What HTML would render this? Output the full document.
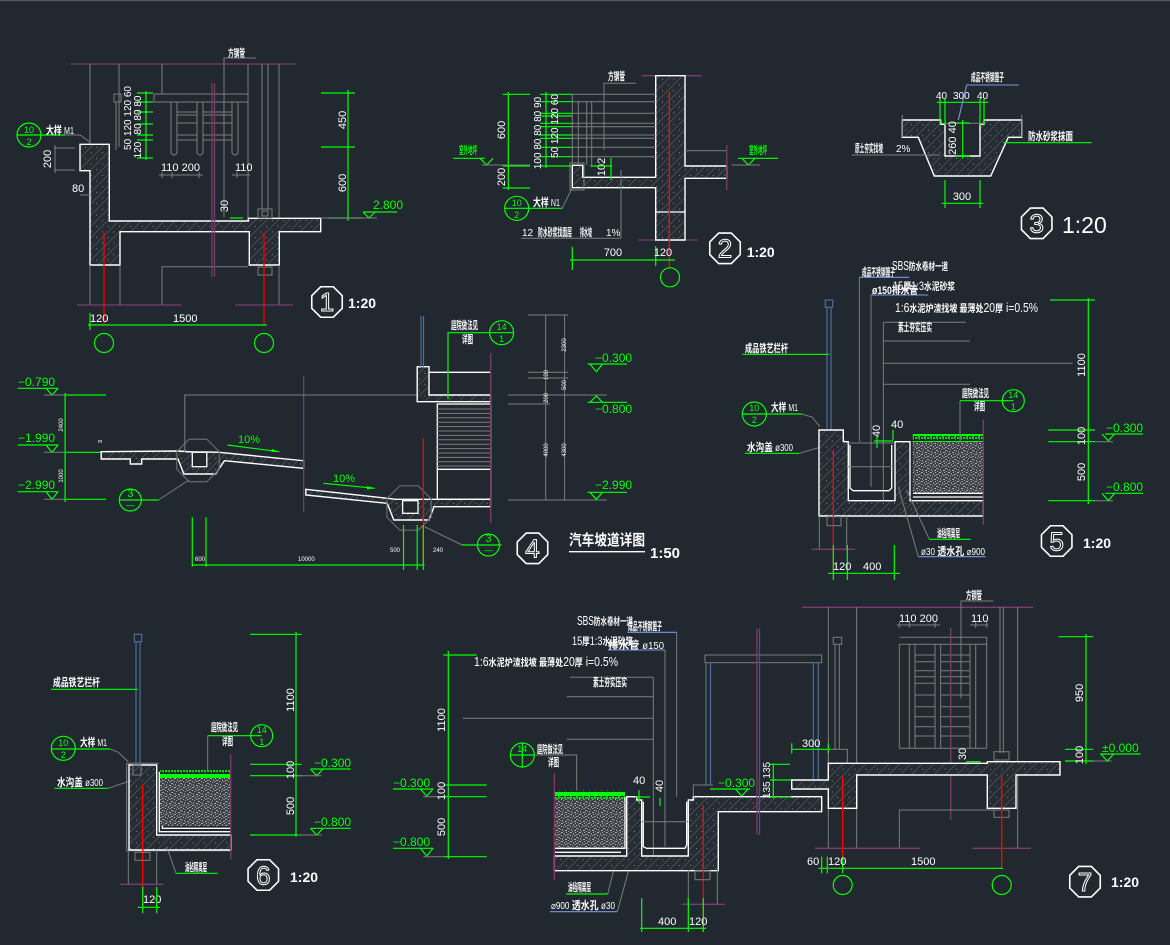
<!DOCTYPE html>
<html><head><meta charset="utf-8"><style>
html,body{margin:0;padding:0;background:#212830;}
svg{display:block;}
.w{stroke:#fff;fill:none;stroke-width:1.3}
.g{stroke:#7d7d7d;fill:none;stroke-width:1}
.gr{stroke:#00ff00;fill:none;stroke-width:1.2}
.p{stroke:#7e3a70;fill:none;stroke-width:1.3}
.r{stroke:#ff0000;fill:none;stroke-width:1.3}
.b{stroke:#4a6f98;fill:none;stroke-width:1.2}
.h{fill:url(#hatch);stroke:#fff;stroke-width:1.4}
.tw{fill:#fff;font-family:"Liberation Sans",sans-serif;font-size:11px}
.tg{fill:#00ff00;font-family:"Liberation Sans",sans-serif;font-size:12px}
.cj{fill:#fff;font-family:"Liberation Sans","Noto Sans CJK SC",sans-serif;font-size:11px;font-weight:bold}
.cg{fill:#00ff00;font-family:"Liberation Sans","Noto Sans CJK SC",sans-serif;font-size:11px;font-weight:bold}
.oc{fill:none;stroke:#fff;stroke-width:1.6}
.on{fill:none;stroke:#fff;stroke-width:1;font-family:"Liberation Sans",sans-serif;font-size:26px}
.sc{fill:#fff;font-family:"Liberation Sans",sans-serif;font-size:14px;font-weight:bold}
.sm{fill:#00ff00;font-family:"Liberation Sans",sans-serif;font-size:9px}
</style></head><body>
<svg width="1170" height="945" viewBox="0 0 1170 945" xmlns="http://www.w3.org/2000/svg">
<defs>
<pattern id="hatch" width="8" height="8" patternUnits="userSpaceOnUse" patternTransform="rotate(45)">
<rect width="8" height="8" fill="#262c34"/>
<line x1="0" y1="0" x2="0" y2="8" stroke="#707070" stroke-width="0.9"/>
<rect x="4" y="3" width="1" height="1" fill="#888"/>
</pattern>
<pattern id="soil" width="9" height="9" patternUnits="userSpaceOnUse">
<rect width="9" height="9" fill="#3e4248"/>
<rect x="0" y="0" width="2" height="1" fill="#a0a0a0"/><rect x="4" y="1" width="1" height="2" fill="#8a8a8a"/>
<rect x="7" y="2" width="2" height="1" fill="#b0b0b0"/><rect x="1" y="3" width="1" height="1" fill="#999"/>
<rect x="3" y="4" width="2" height="1" fill="#a8a8a8"/><rect x="6" y="5" width="1" height="2" fill="#909090"/>
<rect x="0" y="6" width="2" height="1" fill="#9a9a9a"/><rect x="3" y="7" width="1" height="1" fill="#b5b5b5"/>
<rect x="7" y="7" width="2" height="1" fill="#888"/><rect x="5" y="3" width="1" height="1" fill="#777"/>
<rect x="2" y="5" width="1" height="1" fill="#777"/><rect x="8" y="4" width="1" height="1" fill="#aaa"/>
<rect x="5" y="8" width="1" height="1" fill="#999"/><rect x="2" y="1" width="1" height="1" fill="#888"/>
</pattern>
<pattern id="grass" width="6" height="9" patternUnits="userSpaceOnUse">
<rect width="6" height="4" fill="#00ff00"/>
<rect x="0" y="4" width="2" height="3" fill="#00cc00"/><rect x="3" y="5" width="2" height="2" fill="#00e000"/>
<rect x="1" y="7" width="1" height="1" fill="#00b000"/>
</pattern>
</defs>
<rect width="1170" height="945" fill="#212830"/>
<line x1="0" y1="0.5" x2="1170" y2="0.5" stroke="#555" stroke-width="1.5"/>

<!-- ================= DRAWING 1 ================= -->
<line class="p" x1="71" y1="64" x2="296" y2="64"/>
<text class="cj" x="228" y="57" textLength="17" lengthAdjust="spacingAndGlyphs">方钢管</text>
<polyline class="g" points="256,58 224,58 224,217"/>
<line class="g" x1="90" y1="64" x2="90" y2="144"/>
<line class="g" x1="119" y1="64" x2="119" y2="147"/>
<line class="g" x1="162" y1="64" x2="162" y2="94"/>
<line class="g" x1="248" y1="64" x2="248" y2="218"/>
<line class="g" x1="262" y1="64" x2="262" y2="209"/>
<line class="g" x1="268" y1="64" x2="268" y2="209"/>
<line class="g" x1="279" y1="64" x2="279" y2="218"/>
<rect class="g" x="154" y="94" width="94" height="8"/>
<rect class="g" x="114" y="94" width="7" height="8"/>
<line class="g" x1="116" y1="102" x2="116" y2="150"/>
<path class="g" d="M171,102 V153 Q174,157 177,153 V102 M197,102 V153 Q200,157 203,153 V102 M232,102 V153 Q235,157 238,153 V102"/>
<path class="g" d="M177,112 H197 M203,112 H232 M177,115 H197 M203,115 H232 M177,123 H197 M203,123 H232 M177,135 H197 M203,135 H232 M177,140 H197 M203,140 H232"/>
<polygon class="h" points="80,144.3 109.3,144.3 109.3,221 248.3,221 248.3,218.3 320.7,218.3 320.7,231.7 279.3,231.7 279.3,265 249.3,265 249.3,231.7 120,231.7 120,265 90,265 90,170.7 80,170.7"/>
<rect class="g" x="258" y="209" width="14" height="9"/>
<rect class="g" x="262" y="211" width="6" height="5"/>
<rect class="g" x="258" y="267" width="14" height="8"/>
<line class="g" x1="90" y1="265" x2="90" y2="305"/>
<line class="g" x1="120" y1="265" x2="120" y2="305"/>
<polyline class="g" points="162,305 162,266.7 248,266.7"/>
<line class="g" x1="279" y1="265" x2="279" y2="305"/>
<line class="p" x1="212" y1="83" x2="212" y2="277"/><line class="p" x1="214.5" y1="83" x2="214.5" y2="277"/>
<line class="r" x1="104" y1="233" x2="104" y2="325"/>
<line class="r" x1="264" y1="233" x2="264" y2="325"/>
<line class="p" x1="77" y1="305" x2="182" y2="305"/>
<line class="p" x1="235" y1="305" x2="293" y2="305"/>
<line class="gr" x1="88" y1="325" x2="267" y2="325"/>
<line class="gr" x1="90" y1="313" x2="90" y2="330"/>
<text class="tw" x="90" y="322">120</text>
<text class="tw" x="173" y="322">1500</text>
<circle class="gr" cx="104" cy="343" r="9.5"/>
<circle class="gr" cx="264" cy="343" r="9.5"/>
<polygon class="oc" points="342.24,308.31 333.31,317.24 320.69,317.24 311.76,308.31 311.76,295.69 320.69,286.76 333.31,286.76 342.24,295.69"/>
<text class="on" x="327" y="311" text-anchor="middle">1</text>
<text class="sc" x="348" y="308">1:20</text>
<line class="gr" x1="348" y1="90" x2="348" y2="221"/>
<line class="gr" x1="321" y1="93" x2="355" y2="93"/>
<line class="gr" x1="321" y1="147" x2="355" y2="147"/>
<line class="gr" x1="328" y1="218" x2="362" y2="218"/>
<text class="tw" transform="translate(346,120) rotate(-90)" text-anchor="middle">450</text>
<text class="tw" transform="translate(346,183) rotate(-90)" text-anchor="middle">600</text>
<line class="gr" x1="363" y1="212" x2="397" y2="212"/>
<polyline class="gr" points="363,212 369,218 375,212"/>
<line class="g" x1="321" y1="218" x2="377" y2="218"/>
<text class="tg" x="373" y="209">2.800</text>
<circle class="gr" cx="29" cy="135" r="12"/>
<line class="gr" x1="17" y1="135" x2="65" y2="135"/>
<text class="sm" x="29" y="133" text-anchor="middle">10</text>
<text class="sm" x="29" y="145" text-anchor="middle">2</text>
<text class="cj" x="46" y="134" textLength="28" lengthAdjust="spacingAndGlyphs">大样 <tspan font-size="10" font-weight="normal">M1</tspan></text>
<polyline class="g" points="65,135 80,135 90,142"/>
<path class="g" d="M54,148 H75 M54,170 H75 M55,145 V173"/>
<text class="tw" transform="translate(51,159) rotate(-90)" text-anchor="middle">200</text>
<text class="tw" x="72" y="192">80</text>
<path class="g" d="M80,195 H92"/>
<line class="gr" x1="146" y1="91" x2="146" y2="160"/>
<path class="gr" d="M137,93 H153 M137,102 H153 M137,112 H153 M137,124 H153 M137,135 H153 M137,140 H153 M137,158 H153"/>
<text class="tw" style="font-size:10px" transform="translate(131,118) rotate(-90)" text-anchor="middle">50 120 120 60</text>
<text class="tw" style="font-size:10px" transform="translate(141,115) rotate(-90)" text-anchor="middle">80 80 80</text>
<text class="tw" style="font-size:10px" transform="translate(141,150) rotate(-90)" text-anchor="middle">120</text>
<text class="tw" x="161" y="171">110 200</text>
<text class="tw" x="235" y="171">110</text>
<path class="g" d="M159,175 H203 M162,172 V178 M172,172 V178 M199,172 V178 M232,175 H250 M237,172 V178 M248,172 V178"/>
<text class="tw" transform="translate(228,206) rotate(-90)" text-anchor="middle">30</text>
<line class="gr" x1="230" y1="218" x2="243" y2="218"/>

<!-- ================= DRAWING 2 ================= -->
<line class="p" x1="641.7" y1="75.7" x2="701.7" y2="75.7"/>
<line class="p" x1="638" y1="240" x2="698" y2="240"/>
<polygon class="h" points="655.7,75.7 685,75.7 685,166 726.7,166 726.7,178.3 685,178.3 685,240 655.7,240 655.7,187.7 572.3,187.7 572.3,165.3 582.7,165.3 582.7,177.3 655.7,177.3"/>
<line class="w" x1="655.7" y1="212" x2="685" y2="212"/>
<line class="g" x1="685" y1="150.7" x2="726.7" y2="150.7"/>
<line class="p" x1="726.7" y1="145" x2="726.7" y2="190"/>
<line class="r" x1="669.3" y1="91.7" x2="669.3" y2="267"/>
<path class="g" d="M572,94.3 H655.7 M572,101.7 H655.7 M572,113.3 H655.7 M572,123.3 H655.7 M572,126.7 H655.7 M572,135 H655.7 M572,138.3 H655.7 M572,147.3 H655.7 M572,156.7 H655.7"/>
<path class="g" d="M572.3,94 V165 M578.3,101 V165 M586.7,101 V165 M591.7,101 V165"/>
<rect class="g" x="570" y="163" width="14" height="27"/>
<text class="cj" x="608" y="80" textLength="17" lengthAdjust="spacingAndGlyphs">方钢管</text>
<polyline class="g" points="636,83.3 604,83.3 604,150"/>
<line class="gr" x1="508.3" y1="92" x2="508.3" y2="190"/>
<path class="gr" d="M502.7,94.3 H530 M502.7,166 H530 M502.7,188 H530"/>
<text class="tw" transform="translate(505,130) rotate(-90)" text-anchor="middle">600</text>
<text class="tw" transform="translate(505,177) rotate(-90)" text-anchor="middle">200</text>
<line class="gr" x1="546" y1="92" x2="546" y2="168"/>
<path class="gr" d="M540,94.3 H572 M540,101.7 H572 M540,113.3 H572 M540,116 H572 M540,123.3 H572 M540,126.7 H572 M540,135 H572 M540,138.3 H572 M540,147.3 H572 M540,156.7 H572 M540,166 H572"/>
<text class="tw" style="font-size:10px" transform="translate(541,133) rotate(-90)" text-anchor="middle">100 80 80 80 90</text>
<text class="tw" style="font-size:10px" transform="translate(558,126) rotate(-90)" text-anchor="middle">50 120 120 60</text>
<text class="cg" x="459" y="154" textLength="18" lengthAdjust="spacingAndGlyphs">室外地坪</text>
<line class="gr" x1="453" y1="158.3" x2="485" y2="158.3"/>
<polyline class="gr" points="480,158.3 486.7,165 493,158.3"/>
<line class="g" x1="481.7" y1="165" x2="530" y2="165"/>
<text class="cg" x="749" y="154" textLength="18" lengthAdjust="spacingAndGlyphs">室外地坪</text>
<line class="gr" x1="738" y1="158.3" x2="778" y2="158.3"/>
<polyline class="gr" points="742,158.3 748.3,165 755,158.3"/>
<line class="g" x1="731.7" y1="165" x2="760" y2="165"/>
<text class="tw" transform="translate(605,167) rotate(-90)" text-anchor="middle">102</text>
<path class="gr" d="M590,166 H612 M611,158 V180"/>
<circle class="gr" cx="516.7" cy="208.3" r="12"/>
<line class="gr" x1="505" y1="208.3" x2="561.7" y2="208.3"/>
<text class="sm" x="516.7" y="206" text-anchor="middle">10</text>
<text class="sm" x="516.7" y="218" text-anchor="middle">2</text>
<text class="cj" x="533" y="206" textLength="27" lengthAdjust="spacingAndGlyphs">大样 <tspan font-size="10" font-weight="normal">N1</tspan></text>
<polyline class="g" points="561.7,209.3 572.3,187.7"/>
<text class="tw" style="font-size:10px" x="522" y="236">12</text>
<text class="cj" x="538" y="236" textLength="34" lengthAdjust="spacingAndGlyphs">防水砂浆找面层</text>
<text class="cj" x="580" y="236" textLength="12" lengthAdjust="spacingAndGlyphs">排水坡</text>
<text class="tw" style="font-size:10px" x="606" y="236">1%</text>
<line class="g" x1="521" y1="238.3" x2="621" y2="238.3"/>
<line class="g" x1="621" y1="170" x2="621" y2="238.3"/>
<line class="gr" x1="570" y1="260" x2="675" y2="260"/>
<path class="gr" d="M572.3,246.7 V270 M655.7,246 V266"/>
<text class="tw" x="613" y="256" text-anchor="middle">700</text>
<text class="tw" x="663" y="256" text-anchor="middle">120</text>
<circle class="gr" cx="670" cy="277.3" r="9.5"/>
<polygon class="oc" points="740.24,254.61 731.31,263.54 718.69,263.54 709.76,254.61 709.76,241.99 718.69,233.06 731.31,233.06 740.24,241.99"/>
<text class="on" x="725" y="257.5" text-anchor="middle">2</text>
<text class="sc" x="746.7" y="257">1:20</text>

<!-- ================= DRAWING 3 ================= -->
<polygon class="h" points="902.3,120 940.7,120 940.7,124.3 945,124.3 945,156 980,156 980,124.3 984,124.3 984,120 1021.7,120 1021.7,137.3 1008.3,137.3 990.7,176 934.3,176 918.3,137.3 902.3,137.3"/>
<rect x="943" y="119" width="38" height="4" fill="#212830"/>
<line class="g" x1="941.7" y1="123.3" x2="983.3" y2="123.3"/>
<line class="g" x1="902.3" y1="115" x2="902.3" y2="137"/>
<line class="g" x1="1021.7" y1="115" x2="1021.7" y2="137"/>
<text class="tw" style="font-size:10px" x="936" y="99">40</text><text class="tw" style="font-size:10px" x="953" y="99">300</text><text class="tw" style="font-size:10px" x="977" y="99">40</text>
<line class="gr" x1="936.7" y1="102.3" x2="988.3" y2="102.3"/>
<path class="gr" d="M940,99 V125 M945,99 V125 M980,99 V125 M984,99 V125"/>
<line class="gr" x1="962.7" y1="120" x2="962.7" y2="158.3"/>
<path class="gr" d="M955,123 H970 M955,156 H970"/>
<text class="tw" transform="translate(956,138) rotate(-90)" text-anchor="middle">260 40</text>
<text class="tw" x="962" y="200" text-anchor="middle">300</text>
<line class="gr" x1="941.7" y1="203.3" x2="983.3" y2="203.3"/>
<path class="gr" d="M945,180 V208 M980,180 V208"/>
<polyline points="958.3,120 966.7,85 1019,85" fill="none" stroke="#7a96e0" stroke-width="1.1"/>
<text class="cj" x="971" y="81" textLength="33" lengthAdjust="spacingAndGlyphs">成品不锈钢篦子</text>
<text class="cj" x="855" y="152" textLength="28" lengthAdjust="spacingAndGlyphs">原土夯实找坡</text><text class="tw" style="font-size:10px" x="896" y="152">2%</text>
<line class="g" x1="851.7" y1="155" x2="940" y2="155"/>
<text class="cj" x="1028" y="140" textLength="45" lengthAdjust="spacingAndGlyphs">防水砂浆抹面</text>
<line class="gr" x1="1003.3" y1="142.7" x2="1091.7" y2="142.7"/>
<polygon class="oc" points="1051.94,229.61 1043.01,238.54 1030.39,238.54 1021.46,229.61 1021.46,216.99 1030.39,208.06 1043.01,208.06 1051.94,216.99"/>
<text class="on" x="1036.7" y="232.5" text-anchor="middle">3</text>
<text x="1062" y="233" fill="#fff" font-family="Liberation Sans,sans-serif" font-size="23">1:20</text>

<!-- ================= DRAWING 4 ================= -->
<text class="tg" x="18" y="386">−0.790</text>
<line class="gr" x1="17.6" y1="388.3" x2="58.5" y2="388.3"/>
<polyline class="gr" points="46,388.3 52,395 58,388.3"/>
<line class="g" x1="44" y1="395" x2="66" y2="395"/><line class="gr" x1="66" y1="395" x2="106" y2="395"/>
<text class="tg" x="18" y="442">−1.990</text>
<line class="gr" x1="17.6" y1="445" x2="58.5" y2="445"/>
<polyline class="gr" points="46,445 52,452.3 58,445"/>
<line class="g" x1="44" y1="452.3" x2="66" y2="452.3"/><line class="gr" x1="66" y1="452.3" x2="106" y2="452.3"/>
<text class="tg" x="18" y="489">−2.990</text>
<line class="gr" x1="17.6" y1="491.7" x2="58.5" y2="491.7"/>
<polyline class="gr" points="46,491.7 52,499.3 58,491.7"/>
<line class="g" x1="44" y1="499.3" x2="66" y2="499.3"/><line class="gr" x1="66" y1="499.3" x2="106" y2="499.3"/>
<line class="gr" x1="65.1" y1="393" x2="65.1" y2="502"/>
<text class="tw" style="font-size:6px" transform="translate(63,425) rotate(-90)" text-anchor="middle">2400</text>
<text class="tw" style="font-size:6px" transform="translate(63,476) rotate(-90)" text-anchor="middle">1000</text>
<text class="tw" style="font-size:5px" x="98" y="443">m</text>
<polygon class="h" points="101.2,451.7 178.2,451 192.3,452 206.8,452 219.1,452.3 303.6,460.7 303.6,468.3 224.4,460.7 215.6,474 183.9,474 178,459 141.7,459 141.7,464 130.3,464 130.3,459 101.2,459"/>
<rect x="192.3" y="452.3" width="14.5" height="14.4" fill="#212830" stroke="#fff" stroke-width="1.3"/>
<polygon class="h" points="305.8,489.3 387.2,498.3 396,499.3 402.6,499.3 418,499.3 433.4,499.3 490.6,499.3 490.6,506.7 434,506.7 429,520 393.8,520 387.2,503.3 305.8,495"/>
<rect x="402.6" y="500.7" width="15.4" height="12.6" fill="#212830" stroke="#fff" stroke-width="1.3"/>
<polygon points="219.25,469.3 206.8,481.75 189.2,481.75 176.75,469.3 176.75,451.7 189.2,439.25 206.8,439.25 219.25,451.7" fill="none" stroke="#6a6a6a" stroke-width="1.2"/>
<polygon points="431.17,517.18 418.18,530.17 399.82,530.17 386.83,517.18 386.83,498.82 399.82,485.83 418.18,485.83 431.17,498.82" fill="none" stroke="#6a6a6a" stroke-width="1.2"/>
<polyline class="g" points="189,480 158.4,500"/>
<line class="gr" x1="120" y1="500" x2="158.4" y2="500"/>
<circle class="gr" cx="130.3" cy="500" r="11"/>
<text class="sm" x="130.3" y="497" text-anchor="middle" style="font-size:11px">3</text>
<text class="sm" x="130.3" y="508" text-anchor="middle">—</text>
<polyline class="g" points="424.6,526.7 462,545"/>
<line class="gr" x1="462" y1="545" x2="501.6" y2="545"/>
<circle class="gr" cx="488.4" cy="545" r="11"/>
<text class="sm" x="488.4" y="542" text-anchor="middle" style="font-size:11px">3</text>
<text class="sm" x="488.4" y="553" text-anchor="middle">—</text>
<text class="tg" x="238" y="443" style="font-size:11px">10%</text>
<line class="gr" x1="227.5" y1="445" x2="279.4" y2="451.7"/>
<polygon points="279.4,451.7 272,449 271.5,452" fill="#00ff00"/>
<text class="tg" x="333" y="482" style="font-size:11px">10%</text>
<line class="gr" x1="323.4" y1="483.3" x2="375" y2="488.3"/>
<polygon points="375,488.3 367,486 367,489.5" fill="#00ff00"/>
<line class="p" x1="303.6" y1="376" x2="303.6" y2="511.7"/>
<polyline class="g" points="184.8,452 184.8,395 490.6,395"/>
<polygon class="h" points="417.2,366.7 429,366.7 429,395 490.6,395 490.6,401.7 417.2,401.7"/>
<line class="w" x1="429" y1="372.3" x2="490.7" y2="372.3"/>
<rect x="437.3" y="404" width="53.4" height="95.3" fill="none" stroke="#fff" stroke-width="1.3"/>
<path class="g" d="M437.3,409 H490.7 M437.3,413.4 H490.7 M437.3,417.8 H490.7 M437.3,422.2 H490.7 M437.3,426.6 H490.7 M437.3,431 H490.7 M437.3,435.4 H490.7 M437.3,439.8 H490.7 M437.3,444.2 H490.7 M437.3,448.6 H490.7 M437.3,453 H490.7 M437.3,457.4 H490.7 M437.3,461.8 H490.7 M437.3,466 H490.7"/>
<line class="w" x1="437.3" y1="469.3" x2="490.7" y2="469.3"/>
<line class="p" x1="490.7" y1="353" x2="490.7" y2="523"/>
<line class="b" x1="421" y1="316" x2="421" y2="367"/><line class="b" x1="423.5" y1="316" x2="423.5" y2="367"/>
<polyline class="gr" points="448,399 448,332.7 490.6,332.7"/>
<text class="cj" x="451" y="329" textLength="27" lengthAdjust="spacingAndGlyphs">庭院做法见</text>
<text class="cj" x="462" y="343" textLength="11" lengthAdjust="spacingAndGlyphs">详图</text>
<circle class="gr" cx="501.6" cy="332.7" r="12"/>
<line class="gr" x1="489.6" y1="332.7" x2="513.6" y2="332.7"/>
<text class="sm" x="501.6" y="330" text-anchor="middle">14</text>
<text class="sm" x="501.6" y="342" text-anchor="middle">1</text>
<line class="r" x1="423.3" y1="438.3" x2="423.3" y2="566"/>
<path class="g" d="M545.7,315 V500 M564.6,315 V500 M528,315 H568 M528,372.3 H568 M528,378 H568 M508,395 H607 M508,404 H550 M508,500 H607"/>
<text class="tw" style="font-size:6px" transform="translate(566,345) rotate(-90)" text-anchor="middle">2300</text>
<text class="tw" style="font-size:6px" transform="translate(548,375) rotate(-90)" text-anchor="middle">100</text>
<text class="tw" style="font-size:6px" transform="translate(566,385) rotate(-90)" text-anchor="middle">500</text>
<text class="tw" style="font-size:6px" transform="translate(548,398) rotate(-90)" text-anchor="middle">200</text>
<text class="tw" style="font-size:6px" transform="translate(548,450) rotate(-90)" text-anchor="middle">4000</text>
<text class="tw" style="font-size:6px" transform="translate(566,450) rotate(-90)" text-anchor="middle">4300</text>
<text class="tg" x="595" y="362">−0.300</text>
<line class="gr" x1="587.5" y1="364" x2="627" y2="364"/>
<polyline class="gr" points="590,364 596.3,371.7 602.6,364"/>
<polyline class="gr" points="590,402.3 596.3,396 602.6,402.3"/>
<line class="gr" x1="587.5" y1="402.3" x2="627" y2="402.3"/>
<text class="tg" x="595" y="413">−0.800</text>
<text class="tg" x="595" y="489">−2.990</text>
<line class="gr" x1="587.5" y1="492.3" x2="627" y2="492.3"/>
<polyline class="gr" points="590,492.3 596.3,499.3 602.6,492.3"/>
<path class="gr" d="M192.3,517.3 V566.7 M206,517.3 V566.7 M192.3,565 H424.6 M403.5,525 V570 M417.2,525 V570 M423.3,525 V570"/>
<text class="tw" style="font-size:6px" x="195" y="561">600</text>
<text class="tw" style="font-size:6px" x="298" y="561">10000</text>
<text class="tw" style="font-size:6px" x="390" y="552">500</text>
<text class="tw" style="font-size:6px" x="433" y="552">240</text>
<polygon class="oc" points="547.74,554.61 538.81,563.54 526.19,563.54 517.26,554.61 517.26,541.99 526.19,533.06 538.81,533.06 547.74,541.99"/>
<text class="on" x="532.5" y="557.5" text-anchor="middle">4</text>
<text x="569" y="545" fill="#fff" font-family="Liberation Sans,Noto Sans CJK SC,sans-serif" font-size="15" font-weight="bold" textLength="76" lengthAdjust="spacingAndGlyphs">汽车坡道详图</text>
<line class="w" x1="569" y1="551.7" x2="645" y2="551.7"/>
<text x="650" y="558" fill="#fff" font-family="Liberation Sans,sans-serif" font-size="15" font-weight="bold">1:50</text>

<!-- ================= DRAWING 5 ================= -->
<text x="892" y="270" fill="#fff" font-family="Liberation Sans,Noto Sans CJK SC,sans-serif" font-size="13" textLength="56" lengthAdjust="spacingAndGlyphs">SBS<tspan font-size="10" font-weight="bold">防水卷材一道</tspan></text>
<text class="cj" x="862" y="276" textLength="33" lengthAdjust="spacingAndGlyphs">成品不锈钢篦子</text>
<line x1="859.3" y1="277.3" x2="909.3" y2="277.3" stroke="#7a96e0" stroke-width="1.1"/>
<text x="893" y="290" fill="#fff" font-family="Liberation Sans,Noto Sans CJK SC,sans-serif" font-size="12" textLength="62" lengthAdjust="spacingAndGlyphs">15<tspan font-size="10" font-weight="bold">厚</tspan>1:3<tspan font-size="10" font-weight="bold">水泥砂浆</tspan></text>
<text class="cj" x="872" y="294" textLength="46" lengthAdjust="spacingAndGlyphs">ø150排水管</text>
<line x1="871" y1="295" x2="928.3" y2="295" stroke="#7a96e0" stroke-width="1.1"/>
<text x="895" y="312" fill="#fff" font-family="Liberation Sans,Noto Sans CJK SC,sans-serif" font-size="13" textLength="143" lengthAdjust="spacingAndGlyphs">1:6<tspan font-size="10" font-weight="bold">水泥炉渣找坡 最薄处</tspan>20<tspan font-size="10" font-weight="bold">厚</tspan> i=0.5%</text>
<path class="g" d="M859.3,277 V441.7 M871,295 V486.7 M883.3,322.3 V508.3 M883.3,322.3 H965.7 M883.3,341 H970 M883.3,363.3 H1072.7 M883.3,384.3 H970"/>
<text class="cj" x="898" y="331" textLength="34" lengthAdjust="spacingAndGlyphs">素土夯实压实</text>
<rect class="b" x="825.3" y="300" width="7.4" height="7.3"/>
<line class="b" x1="827" y1="307" x2="827" y2="430"/><line class="b" x1="831" y1="307" x2="831" y2="430"/>
<text class="cj" x="745" y="352" textLength="43" lengthAdjust="spacingAndGlyphs">成品铁艺栏杆</text>
<line class="gr" x1="742.3" y1="354.3" x2="829.3" y2="354.3"/>
<circle class="gr" cx="754.3" cy="414" r="12"/>
<line class="gr" x1="742.3" y1="414" x2="801.7" y2="414"/>
<text class="sm" x="754.3" y="411" text-anchor="middle">10</text>
<text class="sm" x="754.3" y="423" text-anchor="middle">2</text>
<text class="cj" x="771" y="411" textLength="27" lengthAdjust="spacingAndGlyphs">大样 <tspan font-size="10" font-weight="normal">M1</tspan></text>
<polyline class="g" points="801.7,414 812,417 820,426.7"/>
<text class="cj" x="747" y="451" textLength="46" lengthAdjust="spacingAndGlyphs">水沟盖 <tspan font-size="10" font-weight="normal">ø300</tspan></text>
<line class="gr" x1="745" y1="453.3" x2="799.3" y2="453.3"/>
<polyline class="g" points="799.3,453.3 845,440"/>
<polygon class="h" points="819,430 843.3,430 843.3,441.7 848.3,441.7 848.3,500.7 895,500.7 895,441.7 910,441.7 910,500.7 983.3,500.7 983.3,516 819,516"/>
<polyline class="w" points="850,445 850,488 853,490.7 889,490.7 891.7,488 891.7,445"/>
<line class="g" x1="848.3" y1="466.7" x2="895" y2="466.7"/>
<line class="g" x1="848.3" y1="443" x2="895" y2="443"/>
<rect x="912.7" y="441.7" width="70.6" height="51.3" fill="url(#soil)"/>
<rect x="912.7" y="434" width="70.6" height="8" fill="url(#grass)"/>
<line class="w" x1="913" y1="493.3" x2="983.3" y2="493.3"/>
<line class="w" x1="913" y1="497" x2="983.3" y2="497"/>
<line class="p" x1="983.3" y1="419.3" x2="983.3" y2="525"/>
<line class="r" x1="833.3" y1="450" x2="833.3" y2="573"/>
<rect class="g" x="827" y="516.7" width="14" height="9"/>
<path class="g" d="M819.3,516 V549.3 M846.7,516 V549.3"/>
<line class="p" x1="811.7" y1="549.3" x2="855" y2="549.3"/>
<line class="gr" x1="828" y1="573.3" x2="900" y2="573.3"/>
<path class="gr" d="M833.3,545 V580 M847.3,545 V580 M894.3,545 V580"/>
<text class="tw" x="833" y="570">120</text>
<text class="tw" x="863" y="570">400</text>
<text class="tw" transform="translate(880,431) rotate(-90)" text-anchor="middle">40</text>
<text class="tw" x="891" y="428">40</text>
<path class="gr" d="M874,441 H893 M877,436 V448 M893,430 V440"/>
<text class="cj" x="962" y="397" textLength="27" lengthAdjust="spacingAndGlyphs">庭院做法见</text>
<text class="cj" x="974" y="410" textLength="11" lengthAdjust="spacingAndGlyphs">详图</text>
<polyline class="g" points="960,441 960,400.7"/>
<line class="gr" x1="960" y1="400.7" x2="1013.3" y2="400.7"/>
<circle class="gr" cx="1013.3" cy="400.7" r="11"/>
<text class="sm" x="1013.3" y="398" text-anchor="middle">14</text>
<text class="sm" x="1013.3" y="410" text-anchor="middle">1</text>
<line class="gr" x1="1088.3" y1="298" x2="1088.3" y2="504"/>
<path class="gr" d="M1050,300 H1095 M1048.3,430 H1095 M1048.3,441.7 H1095 M1048.3,500.7 H1095"/>
<path class="g" d="M1095,441.7 H1113 M1095,500.7 H1113"/>
<text class="tw" transform="translate(1085,365) rotate(-90)" text-anchor="middle">1100</text>
<text class="tw" transform="translate(1085,436) rotate(-90)" text-anchor="middle">100</text>
<text class="tw" transform="translate(1085,472) rotate(-90)" text-anchor="middle">500</text>
<text class="tg" x="1106" y="432">−0.300</text>
<line class="gr" x1="1105" y1="434" x2="1143" y2="434"/>
<polyline class="gr" points="1102,434 1108.3,440.7 1114.6,434"/>
<text class="tg" x="1106" y="491">−0.800</text>
<line class="gr" x1="1105" y1="493.3" x2="1143" y2="493.3"/>
<polyline class="gr" points="1102,493.3 1108.3,500.7 1114.6,493.3"/>
<text class="cj" x="937" y="537" textLength="23" lengthAdjust="spacingAndGlyphs">油毡隔离层</text>
<line class="gr" x1="929.3" y1="539.3" x2="970.7" y2="539.3"/>
<polyline class="g" points="929.3,539.3 906.7,490"/>
<text class="cj" x="921" y="555" textLength="64" lengthAdjust="spacingAndGlyphs"><tspan font-size="10" font-weight="normal">ø30</tspan> 透水孔 <tspan font-size="10" font-weight="normal">⌀900</tspan></text>
<line x1="918.3" y1="556.7" x2="985.7" y2="556.7" stroke="#7a96e0" stroke-width="1.1"/>
<polyline class="g" points="918.3,556.7 898.3,486.7"/>
<polygon class="oc" points="1071.94,547.31 1063.01,556.24 1050.39,556.24 1041.46,547.31 1041.46,534.69 1050.39,525.76 1063.01,525.76 1071.94,534.69"/>
<text class="on" x="1056.7" y="550.5" text-anchor="middle">5</text>
<text class="sc" x="1083" y="548">1:20</text>

<!-- ================= DRAWING 6 ================= -->
<rect class="b" x="134.3" y="634.3" width="7.4" height="7.4"/>
<line class="b" x1="136" y1="641.7" x2="136" y2="763"/><line class="b" x1="140" y1="641.7" x2="140" y2="763"/>
<text class="cj" x="53" y="686" textLength="47" lengthAdjust="spacingAndGlyphs">成品铁艺栏杆</text>
<line class="gr" x1="51" y1="689.3" x2="137.7" y2="689.3"/>
<circle class="gr" cx="63.3" cy="748.3" r="12"/>
<line class="gr" x1="51.3" y1="749" x2="110" y2="749"/>
<text class="sm" x="63.3" y="746" text-anchor="middle">10</text>
<text class="sm" x="63.3" y="758" text-anchor="middle">2</text>
<text class="cj" x="80" y="746" textLength="27" lengthAdjust="spacingAndGlyphs">大样 <tspan font-size="10" font-weight="normal">M1</tspan></text>
<polyline class="g" points="110,749 118,752 128.3,761.7"/>
<text class="cj" x="57" y="786" textLength="46" lengthAdjust="spacingAndGlyphs">水沟盖 <tspan font-size="10" font-weight="normal">ø300</tspan></text>
<line class="gr" x1="54.3" y1="788.3" x2="108.3" y2="788.3"/>
<polyline class="g" points="108.3,788.3 156.7,771.7"/>
<polyline class="g" points="231,850.7 126.7,850.7 126.7,763.3 159,763.3"/>
<polygon class="h" points="129,765 156.7,765 156.7,835 231,835 231,850 129,850"/>
<rect x="160" y="778" width="71" height="48" fill="url(#soil)"/>
<rect x="160" y="770" width="71" height="8" fill="url(#grass)"/>
<polyline class="w" points="159.3,771.7 159.3,831.7 231,831.7"/>
<polyline class="w" points="162.3,826 162.3,828.3 231,828.3"/>
<rect class="g" x="133" y="765" width="8" height="10"/>
<line class="p" x1="230.7" y1="754.3" x2="230.7" y2="859.3"/>
<line class="r" x1="142.7" y1="785" x2="142.7" y2="908"/>
<rect class="g" x="135" y="852.3" width="15" height="8"/>
<path class="g" d="M128.3,850 V884.3 M156.7,850 V884.3"/>
<line class="p" x1="120" y1="884.3" x2="163.3" y2="884.3"/>
<text class="tw" x="143" y="903">120</text>
<line class="gr" x1="137.7" y1="907.3" x2="160" y2="907.3"/>
<path class="gr" d="M142.7,886.7 V913.3 M156.7,886.7 V913.3"/>
<text class="cj" x="185" y="871" textLength="22" lengthAdjust="spacingAndGlyphs">油毡隔离层</text>
<line class="gr" x1="176" y1="873.3" x2="217.7" y2="873.3"/>
<polyline class="g" points="176,873.3 166.7,846.7"/>
<text class="cj" x="211" y="731" textLength="27" lengthAdjust="spacingAndGlyphs">庭院做法见</text>
<text class="cj" x="222" y="745" textLength="11" lengthAdjust="spacingAndGlyphs">详图</text>
<polyline class="g" points="207.7,770 207.7,735.7"/>
<line class="gr" x1="207.7" y1="735.7" x2="261.7" y2="735.7"/>
<circle class="gr" cx="261.7" cy="735.7" r="11"/>
<text class="sm" x="261.7" y="733" text-anchor="middle">14</text>
<text class="sm" x="261.7" y="745" text-anchor="middle">1</text>
<line class="gr" x1="296" y1="632" x2="296" y2="837"/>
<path class="gr" d="M250,634.3 H301.7 M250,764.3 H301.7 M250,775.7 H301.7 M250,835 H301.7"/>
<text class="tw" transform="translate(294,700) rotate(-90)" text-anchor="middle">1100</text>
<text class="tw" transform="translate(294,770) rotate(-90)" text-anchor="middle">100</text>
<text class="tw" transform="translate(294,806) rotate(-90)" text-anchor="middle">500</text>
<text class="tg" x="314" y="767">−0.300</text>
<line class="gr" x1="311" y1="769" x2="350.7" y2="769"/>
<polyline class="gr" points="310.5,769 316.7,775.7 323,769"/>
<line class="g" x1="296.7" y1="775.7" x2="321.7" y2="775.7"/>
<text class="tg" x="314" y="826">−0.800</text>
<line class="gr" x1="311" y1="828.3" x2="350.7" y2="828.3"/>
<polyline class="gr" points="310.5,828.3 316.7,835 323,828.3"/>
<line class="g" x1="296.7" y1="835" x2="321.7" y2="835"/>
<polygon class="oc" points="278.54,881.31 269.61,890.24 256.99,890.24 248.06,881.31 248.06,868.69 256.99,859.76 269.61,859.76 278.54,868.69"/>
<text class="on" x="263.3" y="884.5" text-anchor="middle">6</text>
<text class="sc" x="290" y="882">1:20</text>

<!-- ================= DRAWING 7 ================= -->
<text x="577" y="625" fill="#fff" font-family="Liberation Sans,Noto Sans CJK SC,sans-serif" font-size="13" textLength="56" lengthAdjust="spacingAndGlyphs">SBS<tspan font-size="10" font-weight="bold">防水卷材一道</tspan></text>
<text class="cj" x="628" y="630" textLength="34" lengthAdjust="spacingAndGlyphs">成品不锈钢篦子</text>
<line x1="627.3" y1="632.3" x2="676.7" y2="632.3" stroke="#7a96e0" stroke-width="1.1"/>
<line class="g" x1="676.7" y1="632.3" x2="676.7" y2="796.7"/>
<text x="572" y="645" fill="#fff" font-family="Liberation Sans,Noto Sans CJK SC,sans-serif" font-size="12" textLength="61" lengthAdjust="spacingAndGlyphs">15<tspan font-size="10" font-weight="bold">厚</tspan>1:3<tspan font-size="10" font-weight="bold">水泥砂浆</tspan></text>
<text class="cj" x="608" y="649" textLength="56" lengthAdjust="spacingAndGlyphs">排水管 <tspan font-size="10" font-weight="normal">ø150</tspan></text>
<line x1="608" y1="650" x2="665" y2="650" stroke="#7a96e0" stroke-width="1.1"/>
<line class="g" x1="665" y1="650" x2="665" y2="846.7"/>
<text x="474" y="666" fill="#fff" font-family="Liberation Sans,Noto Sans CJK SC,sans-serif" font-size="13" textLength="144" lengthAdjust="spacingAndGlyphs">1:6<tspan font-size="10" font-weight="bold">水泥炉渣找坡 最薄处</tspan>20<tspan font-size="10" font-weight="bold">厚</tspan> i=0.5%</text>
<path class="g" d="M570,677.3 H653.3 M566.7,696.7 H653.3 M462.7,718.3 H653.3 M566.7,739.3 H653.3 M653.3,677.3 V866.7"/>
<text class="cj" x="593" y="686" textLength="34" lengthAdjust="spacingAndGlyphs">素土夯实压实</text>
<line class="gr" x1="448.3" y1="651" x2="448.3" y2="859"/>
<path class="gr" d="M443.3,655 H476.7 M443.3,785 H486.7 M443.3,796.7 H486.7 M443.3,856.7 H486.7"/>
<path class="g" d="M423.3,796.7 H443.3 M423.3,856.7 H443.3"/>
<text class="tw" transform="translate(445,720) rotate(-90)" text-anchor="middle">1100</text>
<text class="tw" transform="translate(445,791) rotate(-90)" text-anchor="middle">100</text>
<text class="tw" transform="translate(445,827) rotate(-90)" text-anchor="middle">500</text>
<text class="tg" x="393" y="787">−0.300</text>
<line class="gr" x1="393" y1="789" x2="433.3" y2="789"/>
<polyline class="gr" points="420.5,789 426.7,796 433,789"/>
<text class="tg" x="393" y="846">−0.800</text>
<line class="gr" x1="393" y1="848.3" x2="433.3" y2="848.3"/>
<polyline class="gr" points="420.5,848.3 426.7,856 433,848.3"/>
<circle class="gr" cx="522.3" cy="755" r="12"/>
<line class="gr" x1="510.3" y1="755" x2="534.3" y2="755"/>
<line class="gr" x1="522.3" y1="743" x2="522.3" y2="767"/>
<text class="sm" x="522.3" y="752" text-anchor="middle">14</text>
<text class="cj" x="537" y="753" textLength="26" lengthAdjust="spacingAndGlyphs">庭院做法见</text>
<text class="cj" x="548" y="766" textLength="11" lengthAdjust="spacingAndGlyphs">详图</text>
<polyline class="g" points="534.3,755 576.7,755 576.7,790"/>
<polygon class="h" points="626.7,796.7 636.7,796.7 636.7,800 641.7,800 641.7,856 688.3,856 688.3,800 693.3,800 693.3,796.7 821.7,796.7 821.7,811.7 718.3,811.7 718.3,870.7 554.3,870.7 554.3,856 626.7,856"/>
<rect x="555" y="797" width="70" height="51" fill="url(#soil)"/>
<rect x="555" y="790" width="70" height="9" fill="url(#grass)"/>
<polyline class="w" points="625,797 625,848.3 555,848.3"/>
<line class="w" x1="555" y1="852.3" x2="621" y2="852.3"/>
<polyline class="w" points="643.3,801.7 643.3,846.7 646.7,848.3 685,848.3 686.7,845 686.7,801.7"/>
<line class="g" x1="641.7" y1="821.7" x2="688.3" y2="821.7"/>
<line class="p" x1="554.3" y1="773.3" x2="554.3" y2="880"/>
<line class="r" x1="703.3" y1="805" x2="703.3" y2="932"/>
<rect class="g" x="695" y="870.7" width="15" height="9"/>
<path class="g" d="M688.3,870 V904.3 M717.3,870 V904.3"/>
<line class="p" x1="681.7" y1="904.3" x2="725" y2="904.3"/>
<line class="gr" x1="640" y1="928.3" x2="706" y2="928.3"/>
<path class="gr" d="M641.7,898.3 V932 M688.3,898.3 V932 M703.3,898.3 V932"/>
<text class="tw" x="658" y="925">400</text>
<text class="tw" x="689" y="925">120</text>
<text class="tw" x="633" y="784">40</text>
<text class="tw" transform="translate(663,786) rotate(-90)" text-anchor="middle">40</text>
<path class="gr" d="M635,797 H650 M639,790 V803 M660,798 V806"/>
<text class="tg" x="718" y="787">−0.300</text>
<line class="gr" x1="710" y1="789" x2="750" y2="789"/>
<polyline class="gr" points="735.5,789 741.7,796 748,789"/>
<polyline class="g" points="693.3,796.7 693.3,785 713,785"/>
<text class="tw" style="font-size:10px" transform="translate(770,780) rotate(-90)" text-anchor="middle">135 135</text>
<line class="gr" x1="773.3" y1="763.3" x2="773.3" y2="798.3"/>
<path class="gr" d="M770,764.3 H790 M770,780 H791.7 M770,796.7 H791"/>
<rect class="g" x="705" y="655" width="116.7" height="7.7"/>
<line class="b" x1="706" y1="662.7" x2="706" y2="785"/><line class="b" x1="710.5" y1="662.7" x2="710.5" y2="785"/>
<line class="b" x1="813.3" y1="662.7" x2="813.3" y2="780"/><line class="b" x1="818.3" y1="662.7" x2="818.3" y2="780"/>
<line class="p" x1="757" y1="628.3" x2="757" y2="835"/><line class="p" x1="759.5" y1="628.3" x2="759.5" y2="835"/>
<text class="cj" x="568" y="891" textLength="23" lengthAdjust="spacingAndGlyphs">油毡隔离层</text>
<line class="gr" x1="566" y1="894" x2="607.7" y2="894"/>
<polyline class="g" points="607.7,894 613.3,871.7"/>
<text class="cj" x="551" y="909" textLength="64" lengthAdjust="spacingAndGlyphs"><tspan font-size="10" font-weight="normal">⌀900</tspan> 透水孔 <tspan font-size="10" font-weight="normal">ø30</tspan></text>
<line x1="550" y1="911.7" x2="617.3" y2="911.7" stroke="#7a96e0" stroke-width="1.1"/>
<polyline class="g" points="617.3,911.7 628.3,871.7"/>
<!-- right part -->
<line class="p" x1="802.3" y1="607.3" x2="1033.3" y2="607.3"/>
<text class="cj" x="966" y="599" textLength="16" lengthAdjust="spacingAndGlyphs">方钢管</text>
<polyline class="g" points="993.3,601 961,601 961,698.3"/>
<path class="g" d="M828.3,607 V848.3 M856.7,607 V848.3 M1000,607 V753.3 M1003.3,607 V753.3 M1017.7,607 V848.3"/>
<rect class="g" x="833.3" y="637.3" width="8.4" height="7"/>
<path class="g" d="M835,644 V749.3 M839.3,644 V749.3"/>
<rect class="g" x="828.3" y="749.3" width="19" height="14"/>
<path class="g" d="M899.3,637.3 H986.7 M899.3,644.3 H986.7 M899.3,748.3 H986.7"/>
<path class="g" d="M899.3,644 V748.3 M909.3,644 V748.3 M915,644 V748.3 M935,644 V748.3 M940.7,644 V748.3 M970,644 V748.3 M975.7,644 V748.3 M986.7,637 V748.3"/>
<path class="g" d="M915,655 H935 M915,661.7 H935 M915,670.7 H935 M915,676.7 H935 M915,683.3 H935 M915,695 H935 M915,706.7 H935 M915,716.7 H935 M915,726.7 H935 M915,736 H935 M940.7,655 H970 M940.7,661.7 H970 M940.7,670.7 H970 M940.7,676.7 H970 M940.7,683.3 H970 M940.7,695 H970 M940.7,706.7 H970 M940.7,716.7 H970 M940.7,726.7 H970 M940.7,736 H970"/>
<line class="p" x1="950.7" y1="627.3" x2="950.7" y2="820"/>
<text class="tw" x="899" y="622">110 200</text>
<text class="tw" x="971" y="622">110</text>
<path class="g" d="M896.7,625 H940 M899.3,622 V628 M909.3,622 V628 M935,622 V628 M970,625 H988.3 M975.7,622 V628 M986.7,622 V628"/>
<polygon class="h" points="791.7,780 828.3,780 828.3,763.3 987.3,763.3 987.3,761.7 1060,761.7 1060,775 1016,775 1016,808.3 987.3,808.3 987.3,775 856.7,775 856.7,808.3 828.3,808.3 828.3,789 791.7,789"/>
<text class="tw" transform="translate(966,754) rotate(-90)" text-anchor="middle">30</text>
<line class="gr" x1="966" y1="761.7" x2="980.7" y2="761.7"/>
<rect class="g" x="994" y="751.7" width="15" height="8.3"/>
<rect class="g" x="994" y="810" width="15" height="7.3"/>
<polyline class="g" points="899.3,848.3 899.3,810 994,810"/>
<line class="p" x1="815" y1="848.3" x2="920" y2="848.3"/>
<line class="p" x1="972.3" y1="848.3" x2="1031" y2="848.3"/>
<line class="r" x1="842.7" y1="776" x2="842.7" y2="868.3"/>
<line class="r" x1="1001.7" y1="776" x2="1001.7" y2="868.3"/>
<line class="gr" x1="818.3" y1="868.3" x2="1003.3" y2="868.3"/>
<path class="gr" d="M821.7,856.7 V873.3 M827.3,856.7 V873.3 M842.7,856.7 V873.3"/>
<text class="tw" x="807" y="865">60</text>
<text class="tw" x="828" y="865">120</text>
<text class="tw" x="911" y="865">1500</text>
<circle class="gr" cx="842.7" cy="885" r="9.5"/>
<circle class="gr" cx="1001.7" cy="885" r="9.5"/>
<text class="tw" x="802" y="747">300</text>
<line class="gr" x1="791.7" y1="749.3" x2="830" y2="749.3"/>
<path class="gr" d="M791.7,743.3 V753.3 M828.3,743.3 V753.3"/>
<line class="gr" x1="1086" y1="634" x2="1086" y2="764"/>
<path class="gr" d="M1058.3,636.7 H1093.3 M1065,749.3 H1093.3 M1065,761 H1093.3"/>
<line class="g" x1="1093" y1="761" x2="1111.7" y2="761"/>
<text class="tw" transform="translate(1083,693) rotate(-90)" text-anchor="middle">950</text>
<text class="tw" transform="translate(1083,755) rotate(-90)" text-anchor="middle">100</text>
<text class="tg" x="1102" y="752">±0.000</text>
<line class="gr" x1="1100" y1="754" x2="1140.7" y2="754"/>
<polyline class="gr" points="1101,754 1107.3,761 1113.6,754"/>
<polygon class="oc" points="1100.24,888.01 1091.31,896.94 1078.69,896.94 1069.76,888.01 1069.76,875.39 1078.69,866.46 1091.31,866.46 1100.24,875.39"/>
<text class="on" x="1085" y="891" text-anchor="middle">7</text>
<text class="sc" x="1111" y="887">1:20</text>
</svg>
</body></html>
